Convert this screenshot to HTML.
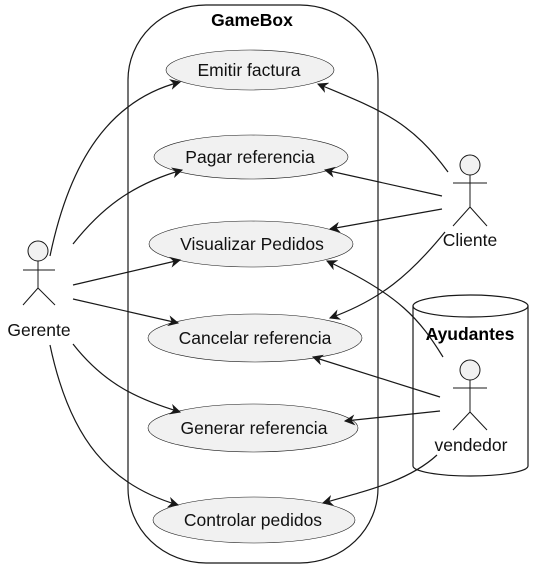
<!DOCTYPE html>
<html><head><meta charset="utf-8"><style>
html,body{margin:0;padding:0;background:#fff;}
svg{display:block;font-family:"Liberation Sans",sans-serif;}
</style></head><body>
<svg width="545" height="565" viewBox="0 0 545 565">
<defs><marker id="ah" viewBox="0 0 10 10" refX="9" refY="5" markerWidth="11" markerHeight="11" orient="auto" markerUnits="userSpaceOnUse"><path d="M0,0 L10,5 L0,10 L3,5 Z" fill="#181818"/></marker></defs>
<path d="M128,80 A78,75 0 0 1 206,5 L300,5 A78,75 0 0 1 378,80 L378,488 A78,75 0 0 1 300,563 L206,563 A78,75 0 0 1 128,488 Z" fill="none" stroke="#181818" stroke-width="1.2"/>
<text x="252" y="26" text-anchor="middle" font-weight="bold" font-size="17.5">GameBox</text>
<g fill="none" stroke="#181818" stroke-width="1.2">
<path d="M413,306 L413,466 A57.5,10 0 0 0 528,466 L528,306"/>
<ellipse cx="470.5" cy="306" rx="57.5" ry="11"/>
</g>
<text x="470" y="340" text-anchor="middle" font-weight="bold" font-size="17.5">Ayudantes</text>
<g fill="#f1f1f1" stroke="#181818" stroke-width="0.6">
<ellipse cx="250" cy="70" rx="84" ry="20"/>
<ellipse cx="251" cy="157" rx="97" ry="22"/>
<ellipse cx="251" cy="244" rx="102" ry="23"/>
<ellipse cx="255" cy="338" rx="107" ry="24"/>
<ellipse cx="253" cy="428" rx="105" ry="24"/>
<ellipse cx="254" cy="520" rx="101" ry="23"/>
</g>
<g font-size="17.5" text-anchor="middle" fill="#111">
<text x="249" y="76">Emitir factura</text>
<text x="250" y="163">Pagar referencia</text>
<text x="252" y="250">Visualizar Pedidos</text>
<text x="255" y="344">Cancelar referencia</text>
<text x="254" y="434">Generar referencia</text>
<text x="253" y="526">Controlar pedidos</text>
</g>
<g stroke="#181818" stroke-width="1" fill="#f1f1f1">
<g><circle cx="38" cy="251" r="10"/><path d="M38,261 V288 M23,270 H55 M38,288 L23,305 M38,288 L55,305" fill="none"/></g>
<g><circle cx="470" cy="165" r="10"/><path d="M470,175 V207 M453,183 H487 M470,207 L453,226 M470,207 L487,226" fill="none"/></g>
<g><circle cx="470" cy="370" r="10"/><path d="M470,380 V412 M453,388 H487 M470,412 L453,430 M470,412 L487,430" fill="none"/></g>
</g>
<g font-size="17.5" text-anchor="middle" fill="#111">
<text x="39" y="336">Gerente</text>
<text x="470" y="246">Cliente</text>
<text x="471" y="451">vendedor</text>
</g>
<g fill="none" stroke="#181818" stroke-width="1.2" marker-end="url(#ah)">
<path d="M50,256 C70,160 110,100 180,82"/>
<path d="M73,244 C100,210 130,185 182,170"/>
<path d="M73,285 L180,260"/>
<path d="M73,299 L178,323"/>
<path d="M73,344 C105,385 140,400 180,412"/>
<path d="M50,345 C70,440 110,485 178,505"/>
<path d="M448,172 C410,120 380,110 318,84"/>
<path d="M442,196 L325,170"/>
<path d="M442,209 L330,229"/>
<path d="M445,232 C410,275 380,300 330,318"/>
<path d="M443,357 C420,320 400,295 327,261"/>
<path d="M440,397 L313,357"/>
<path d="M440,411 L345,421"/>
<path d="M437,455 C410,480 370,490 323,503"/>
</g>
</svg>
</body></html>
